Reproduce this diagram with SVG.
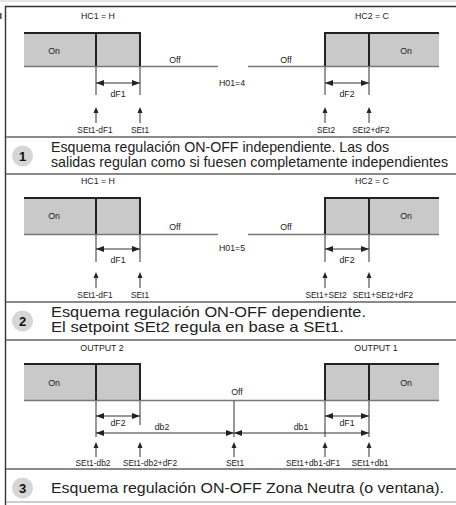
<svg xmlns="http://www.w3.org/2000/svg" width="456" height="505" viewBox="0 0 456 505">
<style>
text{font-family:"Liberation Sans",Arial,sans-serif;fill:#222}
.s{font-size:8.4px;text-anchor:middle}
.h{font-size:8.8px;text-anchor:middle}
.big{font-size:15px;fill:#222}
.num{font-size:13px;font-weight:bold;text-anchor:middle;fill:#111}
.fill{fill:#c9c9c9}
.edge{stroke:#222;stroke-width:2;fill:none}
.base{stroke:#777;stroke-width:1.4;fill:none}
.tick{stroke:#333;stroke-width:1;fill:none}
.dim{stroke:#333;stroke-width:1;fill:none;marker-start:url(#al);marker-end:url(#ar)}
.sep{stroke:#8a8a8a;stroke-width:2}
.circ{fill:#d6d6d6}
</style>
<defs>
<marker id="ar" viewBox="0 0 8 6" refX="8" refY="3" markerWidth="8" markerHeight="6" markerUnits="userSpaceOnUse" orient="auto"><path d="M0,0 L8,3 L0,6 Z" fill="#222"/></marker>
<marker id="al" viewBox="0 0 8 6" refX="0" refY="3" markerWidth="8" markerHeight="6" markerUnits="userSpaceOnUse" orient="auto"><path d="M8,0 L0,3 L8,6 Z" fill="#222"/></marker>
<path id="up" d="M-2.5,6 L0,0 L2.5,6 Z" fill="#222"/>
</defs>

<!-- frame -->
<line x1="0" y1="1" x2="456" y2="1" stroke="#dddddd" stroke-width="1.5"/>
<rect x="0" y="13" width="1.6" height="6" fill="#555"/>
<line x1="5.5" y1="6" x2="5.5" y2="505" stroke="#333" stroke-width="1.4"/>
<line x1="5" y1="6.5" x2="456" y2="6.5" stroke="#333" stroke-width="1.4"/>
<line class="sep" x1="6" y1="137" x2="456" y2="137"/>
<line class="sep" x1="6" y1="174" x2="456" y2="174"/>
<line class="sep" x1="6" y1="302" x2="456" y2="302"/>
<line class="sep" x1="6" y1="340" x2="456" y2="340"/>
<line class="sep" x1="6" y1="469" x2="456" y2="469"/>
<line x1="6" y1="502" x2="456" y2="502" stroke="#bbbbbb" stroke-width="1.5"/>

<!-- Section 1 -->
<g id="section1">
  <text class="h" x="98" y="19">HC1 = H</text>
  <text class="h" x="372" y="19">HC2 = C</text>
  <rect class="fill" x="24" y="33" width="116" height="33"/>
  <rect class="fill" x="325" y="33" width="114" height="33"/>
  <line class="base" x1="24" y1="66.5" x2="218" y2="66.5"/>
  <line class="base" x1="248" y1="66.5" x2="439" y2="66.5"/>
  <path class="edge" d="M24,33 H140 V66 M96,33 V66"/>
  <path class="edge" d="M439,33 H325 V66 M369,33 V66"/>
  <text class="h" x="54" y="54">On</text>
  <text class="h" x="406" y="54">On</text>
  <text class="h" x="175" y="63">Off</text>
  <text class="h" x="286" y="63">Off</text>
  <text class="h" x="232" y="86">H01=4</text>
  <path class="tick" d="M96,67 V95 M140,67 V95 M325,67 V95 M369,67 V95"/>
  <line class="dim" x1="96" y1="83" x2="140" y2="83"/>
  <line class="dim" x1="325" y1="83" x2="369" y2="83"/>
  <text class="h" x="118" y="97">dF1</text>
  <text class="h" x="347" y="97">dF2</text>
  <g id="arrows1">
    <use href="#up" x="96" y="107"/><line class="tick" x1="96" y1="112" x2="96" y2="123"/>
    <use href="#up" x="140" y="107"/><line class="tick" x1="140" y1="112" x2="140" y2="123"/>
    <use href="#up" x="325" y="107"/><line class="tick" x1="325" y1="112" x2="325" y2="123"/>
    <use href="#up" x="369" y="107"/><line class="tick" x1="369" y1="112" x2="369" y2="123"/>
  </g>
  <text class="s" x="95" y="133">SEt1-dF1</text>
  <text class="s" x="140" y="133">SEt1</text>
  <text class="s" x="326" y="133">SEt2</text>
  <text class="s" x="371" y="133">SEt2+dF2</text>
  <circle class="circ" cx="22.5" cy="156" r="10.5"/>
  <text class="num" x="22.5" y="160.7">1</text>
  <text class="big" x="51" y="152" textLength="338" lengthAdjust="spacingAndGlyphs">Esquema regulación ON-OFF independiente. Las dos</text>
  <text class="big" x="51" y="167" textLength="397" lengthAdjust="spacingAndGlyphs">salidas regulan como si fuesen completamente independientes</text>
</g>

<!-- Section 2 -->
<g id="section2">
  <text class="h" x="98" y="184">HC1 = H</text>
  <text class="h" x="372" y="184">HC2 = C</text>
  <rect class="fill" x="24" y="198" width="116" height="36"/>
  <rect class="fill" x="325" y="198" width="114" height="36"/>
  <line class="base" x1="24" y1="234.5" x2="218" y2="234.5"/>
  <line class="base" x1="248" y1="234.5" x2="439" y2="234.5"/>
  <path class="edge" d="M24,198 H140 V234 M96,198 V234"/>
  <path class="edge" d="M439,198 H325 V234 M369,198 V234"/>
  <text class="h" x="54" y="219">On</text>
  <text class="h" x="406" y="219">On</text>
  <text class="h" x="175" y="230">Off</text>
  <text class="h" x="286" y="230">Off</text>
  <text class="h" x="232" y="251">H01=5</text>
  <path class="tick" d="M96,235 V262 M140,235 V262 M325,235 V262 M369,235 V262"/>
  <line class="dim" x1="96" y1="249" x2="140" y2="249"/>
  <line class="dim" x1="325" y1="249" x2="369" y2="249"/>
  <text class="h" x="118" y="263">dF1</text>
  <text class="h" x="347" y="263">dF2</text>
  <g id="arrows2">
    <use href="#up" x="96" y="272"/><line class="tick" x1="96" y1="277" x2="96" y2="288"/>
    <use href="#up" x="140" y="272"/><line class="tick" x1="140" y1="277" x2="140" y2="288"/>
    <use href="#up" x="325" y="272"/><line class="tick" x1="325" y1="277" x2="325" y2="288"/>
    <use href="#up" x="369" y="272"/><line class="tick" x1="369" y1="277" x2="369" y2="288"/>
  </g>
  <text class="s" x="95" y="298">SEt1-dF1</text>
  <text class="s" x="140" y="298">SEt1</text>
  <text class="s" x="326" y="298">SEt1+SEt2</text>
  <text class="s" x="383" y="298">SEt1+SEt2+dF2</text>
  <circle class="circ" cx="22.5" cy="321" r="10.5"/>
  <text class="num" x="22.5" y="325.7">2</text>
  <text class="big" x="51" y="317" textLength="315" lengthAdjust="spacingAndGlyphs">Esquema regulación ON-OFF dependiente.</text>
  <text class="big" x="51" y="332" textLength="293" lengthAdjust="spacingAndGlyphs">El setpoint SEt2 regula en base a SEt1.</text>
</g>

<!-- Section 3 -->
<g id="section3">
  <text class="h" x="102" y="351">OUTPUT 2</text>
  <text class="h" x="376" y="351">OUTPUT 1</text>
  <rect class="fill" x="24" y="364" width="116" height="36"/>
  <rect class="fill" x="325" y="364" width="114" height="36"/>
  <line class="base" x1="24" y1="400.5" x2="439" y2="400.5"/>
  <path class="edge" d="M24,364 H140 V400 M96,364 V400"/>
  <path class="edge" d="M439,364 H325 V400 M369,364 V400"/>
  <text class="h" x="54" y="386">On</text>
  <text class="h" x="406" y="386">On</text>
  <text class="h" x="237" y="395">Off</text>
  <path class="tick" d="M96,401 V437 M140,401 V425 M234,401 V437 M325,401 V437 M369,401 V437"/>
  <line class="dim" x1="96" y1="416" x2="140" y2="416"/>
  <line class="dim" x1="325" y1="416" x2="369" y2="416"/>
  <line class="dim" x1="96" y1="433" x2="234" y2="433"/>
  <line class="dim" x1="234" y1="433" x2="369" y2="433"/>
  <text class="h" x="118" y="426">dF2</text>
  <text class="h" x="347" y="426">dF1</text>
  <text class="h" x="162" y="430">db2</text>
  <text class="h" x="301" y="430">db1</text>
  <g id="arrows3">
    <use href="#up" x="96" y="442"/><line class="tick" x1="96" y1="447" x2="96" y2="457"/>
    <use href="#up" x="140" y="442"/><line class="tick" x1="140" y1="447" x2="140" y2="457"/>
    <use href="#up" x="234" y="442"/><line class="tick" x1="234" y1="447" x2="234" y2="457"/>
    <use href="#up" x="325" y="442"/><line class="tick" x1="325" y1="447" x2="325" y2="457"/>
    <use href="#up" x="369" y="442"/><line class="tick" x1="369" y1="447" x2="369" y2="457"/>
  </g>
  <text class="s" x="93" y="466">SEt1-db2</text>
  <text class="s" x="150" y="466">SEt1-db2+dF2</text>
  <text class="s" x="235" y="466">SEt1</text>
  <text class="s" x="313" y="466">SEt1+db1-dF1</text>
  <text class="s" x="370" y="466">SEt1+db1</text>
  <circle class="circ" cx="22.5" cy="488" r="10.5"/>
  <text class="num" x="22.5" y="492.7">3</text>
  <text class="big" x="51" y="493" textLength="393" lengthAdjust="spacingAndGlyphs">Esquema regulación ON-OFF Zona Neutra (o ventana).</text>
</g>
</svg>
